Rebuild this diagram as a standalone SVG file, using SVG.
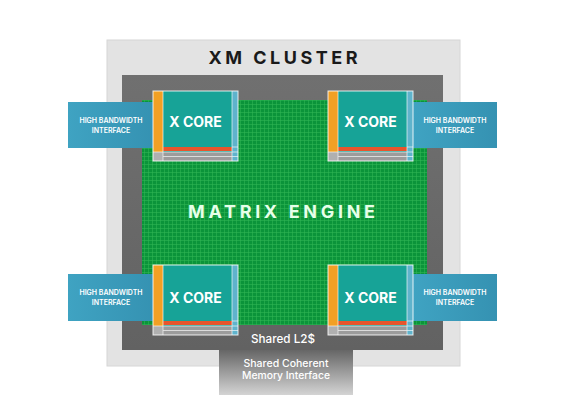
<svg xmlns="http://www.w3.org/2000/svg" width="569" height="420" viewBox="0 0 569 420">
<style>
.core-bg{fill:#17a397}
.orange{fill:#f2a024}
.rstrip{fill:#5fb3cc}
.red{fill:#e8552c}
.gbar{fill:#9c9c9c}
.gbar2{fill:#b0b0b0}
.wl{stroke:#ffffff;stroke-width:0.8;opacity:0.8}
.border{fill:none;stroke:#ffffff;stroke-width:1;opacity:0.85}
.coret{font-family:Inter,"Open Sans",sans-serif;font-weight:700;font-size:14px;fill:#ffffff}
.hbi{fill:url(#hbiGrad)}
.hbit{font-family:Inter,"Open Sans",sans-serif;font-weight:600;font-size:7px;fill:#ffffff;text-anchor:middle}
.memt{font-family:Inter,"Open Sans",sans-serif;font-weight:500;fill:#ffffff;text-anchor:middle}
</style>
<defs>
<pattern id="grid" x="0" y="0" width="4" height="4" patternUnits="userSpaceOnUse">
<rect width="4" height="4" fill="#0b943a"/>
<path d="M0 0.35H4M0.35 0V4" stroke="#2fb553" stroke-width="0.7"/>
</pattern>
<linearGradient id="hbiGrad" x1="0" y1="0" x2="1" y2="0">
<stop offset="0" stop-color="#3fa3c2"/>
<stop offset="1" stop-color="#3592b2"/>
</linearGradient>
<linearGradient id="memGrad" x1="0" y1="0" x2="0" y2="1">
<stop offset="0" stop-color="#666666"/>
<stop offset="1" stop-color="#d4d4d4"/>
</linearGradient>
<linearGradient id="darkGrad" x1="0" y1="0" x2="0" y2="1">
<stop offset="0" stop-color="#707070"/>
<stop offset="1" stop-color="#626262"/>
</linearGradient>
</defs>

<g id="cluster">
<rect x="107" y="40" width="353" height="326" fill="#e3e3e3" stroke="#d6d6d6" stroke-width="1"/>
<text x="283" y="64" font-family="Inter,'Open Sans',sans-serif" font-weight="700" font-size="18" fill="#1a1a1a" text-anchor="middle" textLength="149" lengthAdjust="spacing">XM CLUSTER</text>
<rect x="122" y="75" width="321" height="275" fill="url(#darkGrad)"/>
</g>

<g id="memory-interface">
<rect x="219" y="350" width="134" height="45" fill="url(#memGrad)"/>
<text class="memt" x="286" y="367" font-size="10" textLength="85" lengthAdjust="spacingAndGlyphs">Shared Coherent</text>
<text class="memt" x="286" y="379" font-size="10" textLength="88" lengthAdjust="spacingAndGlyphs">Memory Interface</text>
</g>

<g id="matrix-engine">
<rect x="142" y="100" width="285" height="225" fill="url(#grid)"/>
<text x="281.5" y="218" font-family="Inter,'Open Sans',sans-serif" font-weight="700" font-size="18" fill="#e6ffe9" text-anchor="middle" textLength="187" lengthAdjust="spacing">MATRIX ENGINE</text>
</g>

<g id="l2">
<text class="memt" x="283" y="343" font-size="12" textLength="64" lengthAdjust="spacingAndGlyphs">Shared L2$</text>
</g>

<g id="hbi-tl">
<rect class="hbi" x="68" y="102" width="86" height="46"/>
<text class="hbit" x="111" y="123">HIGH BANDWIDTH</text>
<text class="hbit" x="111" y="133">INTERFACE</text>
</g>
<g id="hbi-tr">
<rect class="hbi" x="413" y="102" width="84" height="46"/>
<text class="hbit" x="455" y="123">HIGH BANDWIDTH</text>
<text class="hbit" x="455" y="133">INTERFACE</text>
</g>
<g id="hbi-bl">
<rect class="hbi" x="68" y="274" width="86" height="47"/>
<text class="hbit" x="111" y="295">HIGH BANDWIDTH</text>
<text class="hbit" x="111" y="305">INTERFACE</text>
</g>
<g id="hbi-br">
<rect class="hbi" x="413" y="274" width="84" height="47"/>
<text class="hbit" x="455" y="295">HIGH BANDWIDTH</text>
<text class="hbit" x="455" y="305">INTERFACE</text>
</g>

<defs>
<g id="core">
<rect class="core-bg" x="0" y="0" width="85" height="70"/>
<rect class="orange" x="0" y="0" width="10" height="61"/>
<rect class="gbar2" x="0" y="61" width="10" height="9"/>
<rect class="rstrip" x="79" y="0" width="6" height="70"/>
<rect class="red" x="10" y="56" width="69" height="4"/>
<rect class="gbar" x="10" y="61" width="69" height="9"/>
<path class="wl" d="M10 0V70M79 0V70M0 61H85M10 65.5H85M79 56H85"/>
<rect class="border" x="0" y="0" width="85" height="70"/>
</g>
</defs>

<g id="core-tl">
<use href="#core" x="153" y="91"/>
<text class="coret" x="195.5" y="127" text-anchor="middle">X CORE</text>
</g>
<g id="core-tr">
<use href="#core" x="328" y="91"/>
<text class="coret" x="370.5" y="127" text-anchor="middle">X CORE</text>
</g>
<g id="core-bl">
<use href="#core" x="153" y="265"/>
<text class="coret" x="195.5" y="303" text-anchor="middle">X CORE</text>
</g>
<g id="core-br">
<use href="#core" x="328" y="265"/>
<text class="coret" x="370.5" y="303" text-anchor="middle">X CORE</text>
</g>

<g id="connectors"></g>
</svg>
